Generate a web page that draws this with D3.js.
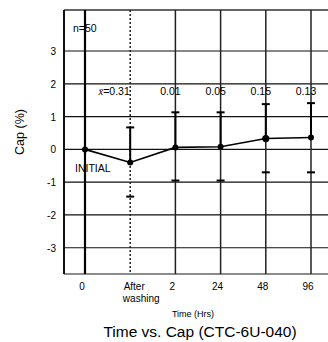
<!DOCTYPE html>
<html lang="en">
<head>
    <meta charset="UTF-8">
    <title>Time vs. Cap</title>
    <style>
        body { margin: 0; background: #fff; }
        svg { display: block; font-family: "Liberation Sans", Arial, sans-serif; }
    </style>
    <script src="https://cdn.jsdelivr.net/npm/d3@7"></script>
</head>
<body>
    <script type="module">
        // Data
        const categories = ["0", "After washing", "2", "24", "48", "96"];
        const means = [0, -0.4, 0.06, 0.08, 0.33, 0.36];
        const upper = [null, 0.67, 1.13, 1.13, 1.38, 1.41];
        const lower = [null, -1.44, -0.95, -0.95, -0.7, -0.7];
        const valueLabels = [null, "=0.31", "0.01", "0.05", "0.15", "0.13"];
        const yTicks = [-3, -2, -1, 0, 1, 2, 3];

        const width = 328, height = 342;
        const left = 64, top = 10, bottom = 274, right = 345;

        const svg = d3.select("body").append("svg").attr("width", width).attr("height", height);

        const x = d3.scalePoint().domain(categories).range([85, 311]);
        const y = d3.scaleLinear().domain([-3.8, 4.25]).range([bottom, top]);

        // frame
        svg.append("line").attr("x1", left).attr("x2", right).attr("y1", top).attr("y2", top)
            .attr("stroke", "#333").attr("stroke-width", 1.5);
        svg.append("line").attr("x1", left).attr("x2", right).attr("y1", bottom).attr("y2", bottom)
            .attr("stroke", "#666").attr("stroke-width", 1.5);
        svg.append("line").attr("x1", left).attr("x2", left).attr("y1", top).attr("y2", bottom)
            .attr("stroke", "#111").attr("stroke-width", 2);

        // horizontal grid
        svg.selectAll("line.hgrid")
            .data(yTicks)
            .join("line")
            .attr("class", "hgrid")
            .attr("x1", left).attr("x2", right)
            .attr("y1", d => y(d)).attr("y2", d => y(d))
            .attr("stroke", "#111").attr("stroke-width", 1.2);

        // vertical grid at each category
        svg.selectAll("line.vgrid")
            .data(categories)
            .join("line")
            .attr("class", "vgrid")
            .attr("x1", d => x(d)).attr("x2", d => x(d))
            .attr("y1", top).attr("y2", bottom)
            .attr("stroke", (d, i) => i === 0 ? "#000" : "#222")
            .attr("stroke-width", (d, i) => i === 0 ? 2.2 : 1.5)
            .attr("stroke-dasharray", (d, i) => i === 1 ? "2,2" : null);

        // y tick labels
        svg.selectAll("text.ytick")
            .data(yTicks)
            .join("text")
            .attr("class", "ytick")
            .attr("x", 56).attr("y", d => y(d) + 4)
            .attr("text-anchor", "end")
            .attr("font-size", 10)
            .text(d => d);

        // x tick labels
        const xl = svg.selectAll("text.xtick")
            .data(categories)
            .join("text")
            .attr("class", "xtick")
            .attr("x", (d, i) => x(d) + (i === 1 ? 7 : 0))
            .attr("y", 290)
            .attr("text-anchor", "middle")
            .attr("font-size", 10);
        xl.each(function(d) {
            const words = d.split(" ");
            d3.select(this).selectAll("tspan").data(words).join("tspan")
                .attr("x", d3.select(this).attr("x"))
                .attr("dy", (w, j) => j === 0 ? 0 : 12)
                .attr("dx", (w, j) => j === 0 ? -3 : 4)
                .text(w => w);
        });

        // error bars
        const errIdx = d3.range(categories.length).filter(i => upper[i] != null);
        svg.selectAll("line.err")
            .data(errIdx)
            .join("line")
            .attr("class", "err")
            .attr("x1", i => x(categories[i])).attr("x2", i => x(categories[i]))
            .attr("y1", i => y(upper[i])).attr("y2", i => y(means[i]))
            .attr("stroke", "#000").attr("stroke-width", 2);
        svg.selectAll("line.capTop")
            .data(errIdx)
            .join("line")
            .attr("class", "capTop")
            .attr("x1", i => x(categories[i]) - 4).attr("x2", i => x(categories[i]) + 4)
            .attr("y1", i => y(upper[i])).attr("y2", i => y(upper[i]))
            .attr("stroke", "#000").attr("stroke-width", 2);
        svg.selectAll("line.capBot")
            .data(errIdx)
            .join("line")
            .attr("class", "capBot")
            .attr("x1", i => x(categories[i]) - 4).attr("x2", i => x(categories[i]) + 4)
            .attr("y1", i => y(lower[i])).attr("y2", i => y(lower[i]))
            .attr("stroke", "#000").attr("stroke-width", 2);

        // mean line
        const line = d3.line().x((d, i) => x(categories[i])).y(d => y(d));
        svg.append("path").datum(means)
            .attr("d", line)
            .attr("fill", "none").attr("stroke", "#000").attr("stroke-width", 1.6);
        svg.selectAll("circle.pt")
            .data(means)
            .join("circle")
            .attr("class", "pt")
            .attr("cx", (d, i) => x(categories[i])).attr("cy", d => y(d))
            .attr("r", (d, i) => i === 4 ? 3.6 : 3)
            .attr("fill", "#000");

        // value labels
        const vl = svg.selectAll("text.vlab")
            .data(errIdx)
            .join("text")
            .attr("class", "vlab")
            .attr("x", i => x(categories[i]) - (i === 1 ? 16 : 5))
            .attr("y", y(1.65))
            .attr("text-anchor", "middle")
            .attr("font-size", 10.5);
        vl.filter(i => i === 1).append("tspan")
            .attr("font-family", "'Liberation Serif', serif")
            .attr("font-style", "italic")
            .text("x\u0304");
        vl.append("tspan").text(i => valueLabels[i]);

        // annotations
        svg.append("text").attr("x", 73).attr("y", 32).attr("font-size", 10.5).text("n=50");
        svg.append("text").attr("x", 75).attr("y", 172).attr("font-size", 10.5).text("INITIAL");

        // axis titles
        svg.append("text")
            .attr("transform", "translate(24, 132) rotate(-90)")
            .attr("text-anchor", "middle")
            .attr("font-size", 12.5)
            .text("Cap (%)");
        svg.append("text").attr("x", 193).attr("y", 317).attr("text-anchor", "middle")
            .attr("font-size", 9).text("Time (Hrs)");
        svg.append("text").attr("x", 200).attr("y", 337).attr("text-anchor", "middle")
            .attr("font-size", 15.5).text("Time vs. Cap (CTC-6U-040)");
    </script>
</body>
</html>
